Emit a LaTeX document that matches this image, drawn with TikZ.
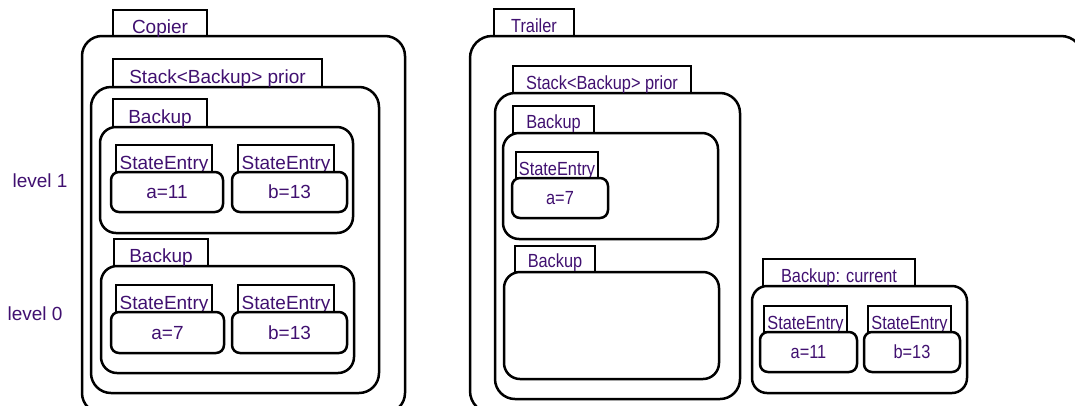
\documentclass[tikz,border=0pt]{standalone}
\usepackage{fontspec}
\setmainfont{Liberation Sans}
\usetikzlibrary{fit}
\definecolor{txt}{RGB}{64,16,112}
\begin{document}
\begin{tikzpicture}[x=1pt,y=-1pt,
  cbox/.style={draw=black, line width=2.5pt, inner sep=0pt, rounded corners=#1},
  cbox/.default=16pt,
  tabbox/.style={draw=black, line width=2.5pt, inner sep=0pt},
  lbl/.style={text=txt, font=\fontsize{19}{22}\selectfont, inner sep=0pt},
  valtxt/.style={text=txt, font=\fontsize{19}{22}\selectfont, inner sep=0pt, text height=13.6pt, text depth=0pt}
]
\useasboundingbox (0,0) rectangle (1075,405);
\clip (0,0) rectangle (1075,405);
\newcommand\rs[1]{\scalebox{0.86}[1]{#1}}

% ---------- left: Copier ----------
\node[valtxt] (lv1) at (40,181) {level 1};
\node[valtxt] (lv0) at (35,313.5) {level 0};

\node[cbox=20pt, fit={(82,36)(405,413)}] (copier) {};
\node[tabbox, fit={(113,10)(207,36)}] (copiertab) {};
\node[lbl, anchor=base] at ([yshift=4pt]copiertab.south) {Copier};
\node[cbox=20pt, fit={(91,87)(379,393)}] (stackL) {};
\node[tabbox, fit={(113,59)(322,87)}] (stackLtab) {};
\node[lbl, anchor=base] at ([yshift=4.5pt]stackLtab.south) {Stack<Backup> prior};

\node[cbox=16pt, fit={(100,127)(353,233)}] (bk1) {};
\node[tabbox, fit={(113,99)(207,127)}] (bk1tab) {};
\node[lbl, anchor=base] at ([yshift=5pt]bk1tab.south) {Backup};
\node[tabbox, fit={(116,145)(212,172)}] (se1a) {};
\node[lbl, anchor=base] at ([yshift=4pt]se1a.south) {StateEntry};
\node[cbox=8pt, fit={(111,172)(223,212)}] (e1a) {};
\node[valtxt] at (e1a.center) {a=11};
\node[tabbox, fit={(238,145)(334,172)}] (se1b) {};
\node[lbl, anchor=base] at ([yshift=4pt]se1b.south) {StateEntry};
\node[cbox=8pt, fit={(232,172)(347,212)}] (e1b) {};
\node[valtxt] at (e1b.center) {b=13};

\node[cbox=16pt, fit={(101,266)(354,373)}] (bk0) {};
\node[tabbox, fit={(114,239)(208,266)}] (bk0tab) {};
\node[lbl, anchor=base] at ([yshift=5pt]bk0tab.south) {Backup};
\node[tabbox, fit={(116,285)(212,312)}] (se0a) {};
\node[lbl, anchor=base] at ([yshift=4pt]se0a.south) {StateEntry};
\node[cbox=8pt, fit={(111,312)(224,353)}] (e0a) {};
\node[valtxt] at (e0a.center) {a=7};
\node[tabbox, fit={(238,285)(334,312)}] (se0b) {};
\node[lbl, anchor=base] at ([yshift=4pt]se0b.south) {StateEntry};
\node[cbox=8pt, fit={(232,312)(347,353)}] (e0b) {};
\node[valtxt] at (e0b.center) {b=13};

% ---------- right: Trailer ----------
\node[cbox=22pt, fit={(470,36)(1083,413)}] (trailer) {};
\node[tabbox, fit={(494,9)(574,36)}] (trailertab) {};
\node[lbl, anchor=base] at ([yshift=5pt]trailertab.south) {\rs{Trailer}};
\node[cbox=20pt, fit={(495,93)(740,399)}] (stackR) {};
\node[tabbox, fit={(513,66)(691,93)}] (stackRtab) {};
\node[lbl, anchor=base] at ([yshift=5pt]stackRtab.south) {\rs{Stack<Backup> prior}};

\node[cbox=16pt, fit={(503,133)(718,239)}] (rb1) {};
\node[tabbox, fit={(513,106)(594,133)}] (rb1tab) {};
\node[lbl, anchor=base] at ([yshift=6pt]rb1tab.south) {\rs{Backup}};
\node[tabbox, fit={(516,152)(598,178)}] (rse1) {};
\node[lbl, anchor=base] at ([yshift=4pt]rse1.south) {\rs{StateEntry}};
\node[cbox=8pt, fit={(512,178)(608,218)}] (re1) {};
\node[valtxt] at (re1.center) {\rs{a=7}};

\node[cbox=16pt, fit={(504,272)(719,379)}] (rb2) {};
\node[tabbox, fit={(515,246)(595,272)}] (rb2tab) {};
\node[lbl, anchor=base] at ([yshift=6pt]rb2tab.south) {\rs{Backup}};

\node[cbox=15pt, fit={(752,286)(967,393)}] (cur) {};
\node[tabbox, fit={(763,259)(915,286)}] (curtab) {};
\node[lbl, anchor=base] at ([yshift=5pt]curtab.south) {\rs{Backup: current}};
\node[tabbox, fit={(764,306)(847,332)}] (cse1) {};
\node[lbl, anchor=base] at ([yshift=4pt]cse1.south) {\rs{StateEntry}};
\node[cbox=8pt, fit={(760,332)(857,372)}] (ce1) {};
\node[valtxt] at (ce1.center) {\rs{a=11}};
\node[tabbox, fit={(868,306)(951,332)}] (cse2) {};
\node[lbl, anchor=base] at ([yshift=4pt]cse2.south) {\rs{StateEntry}};
\node[cbox=8pt, fit={(864,332)(960,372)}] (ce2) {};
\node[valtxt] at (ce2.center) {\rs{b=13}};
\end{tikzpicture}
\end{document}
